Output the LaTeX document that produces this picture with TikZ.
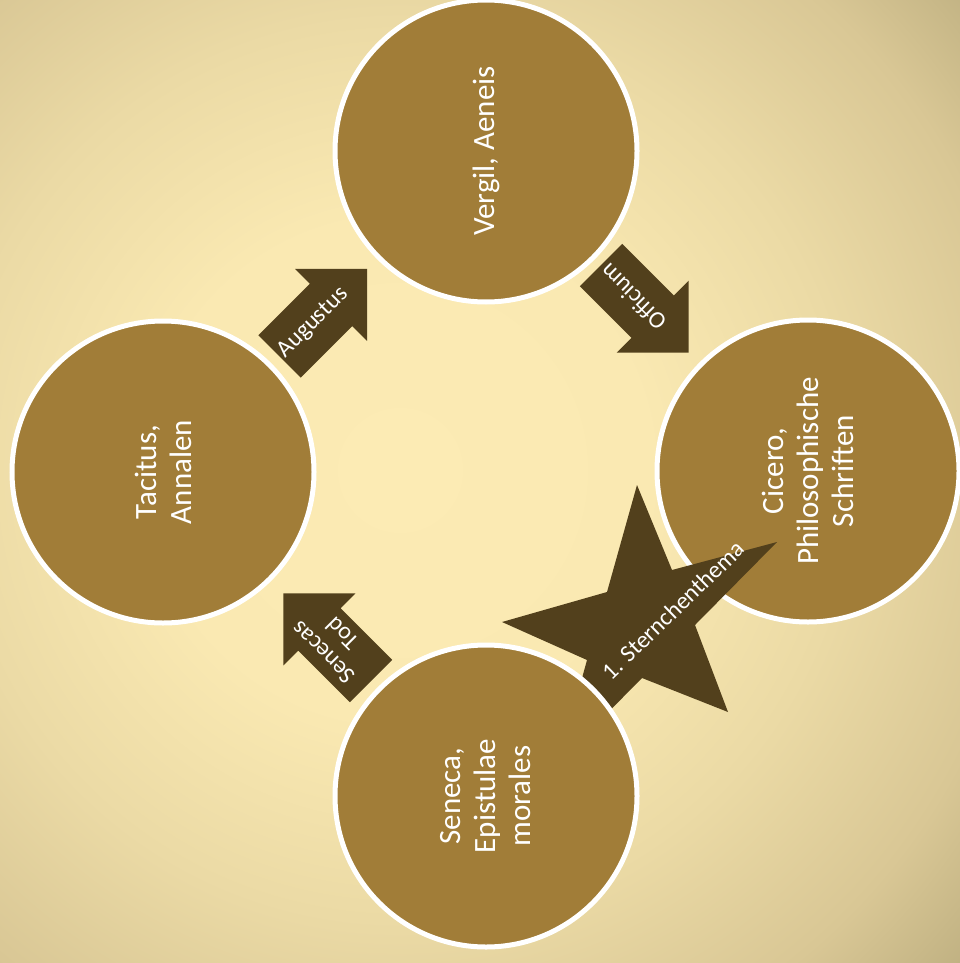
\documentclass[tikz,border=0pt]{standalone}
\usepackage{fontspec}
\setmainfont{Carlito}
\definecolor{circfill}{RGB}{161,125,56}
\definecolor{arrfill}{RGB}{82,64,28}
\definecolor{bgA}{RGB}{252,235,180}
\definecolor{bgAA}{RGB}{250,233,178}
\definecolor{bgB}{RGB}{235,218,165}
\definecolor{bgC}{RGB}{217,199,149}
\definecolor{bgD}{RGB}{192,177,130}
\definecolor{bgE}{RGB}{180,165,120}
\pgfdeclareradialshading{bgshade}{\pgfpoint{0bp}{0bp}}{color(0bp)=(bgA); color(6.25bp)=(bgAA); color(11.25bp)=(bgB); color(15.75bp)=(bgC); color(18.75bp)=(bgD); color(25bp)=(bgE)}
\newcommand{\blockarr}[3]{%
  \fill[arrfill, shift={(#1,#2)}, rotate=#3] (0,30) -- (73,30) -- (73,51) -- (124,0) -- (73,-51) -- (73,-30) -- (0,-30) -- cycle;}
\begin{document}
\begin{tikzpicture}[x=1pt,y=-1pt,
  book/.style={circle, draw=white, line width=5pt, fill=circfill, minimum size=302pt, inner sep=0pt, text=white, font=\fontsize{31}{35}\selectfont, align=center, rotate=90},
  lbl/.style={text=white, font=\fontsize{24}{27}\selectfont, align=center, inner sep=0pt}]
\useasboundingbox (0,0) rectangle (960,963);
\begin{scope}
  \clip (0,0) rectangle (960,963);
  \shade[shading=bgshade] (-600,-530) rectangle (1400,1470);
\end{scope}
\node[book] (vergil) at (486,151) {Vergil, Aeneis};
\node[book] (tacitus) at (163,472) {Tacitus,\\Annalen};
\node[book] (cicero) at (808,471) {Cicero,\\Philosophische\\Schriften};
\blockarr{279.5}{356.5}{45}
\blockarr{601}{265}{-45}
\blockarr{371}{681}{135}
\fill[arrfill] (637,485) -- (672,570) -- (777,542) -- (695,625) -- (728,712) -- (642,678) -- (559,762) -- (587,660) -- (502,622) -- (607,592) -- cycle;
\node[book] (seneca) at (486,796) {Seneca,\\Epistulae\\morales};
\node[lbl, rotate=45] (augustus) at (313,323) {Augustus};
\node[lbl, rotate=135] (officium) at (633,297) {Officium};
\node[lbl, rotate=135] (tod) at (333,643) {Senecas\\Tod};
\node[lbl, rotate=44] (stern) at (673,610) {1. Sternchenthema};
\end{tikzpicture}
\end{document}
